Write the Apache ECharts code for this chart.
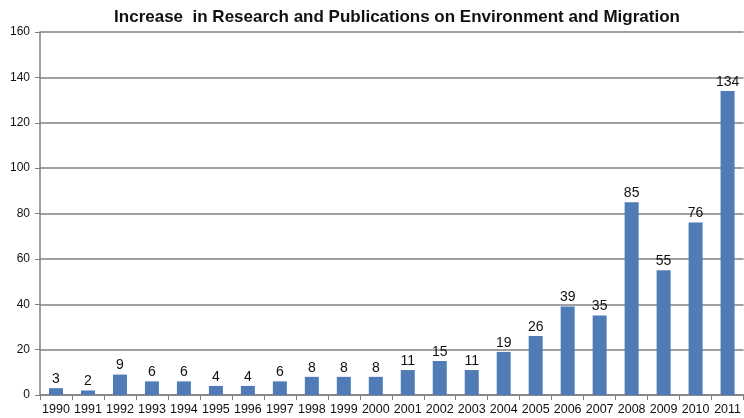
<!DOCTYPE html>
<html lang="en">

<head>
  <meta charset="UTF-8">
  <title>Environment and Migration</title>
  <script src="https://cdn.jsdelivr.net/npm/echarts@6.0.0/dist/echarts.min.js"></script>
  <style>
    * {
      padding: 0;
      margin: 0;
    }

    #main {
      width: 744px;
      height: 418px;
      background: #fff;
    }
  </style>
</head>

<body>
  <div id="main"></div>
  <script>
    var years = ['1990', '1991', '1992', '1993', '1994', '1995', '1996', '1997', '1998', '1999', '2000',
      '2001', '2002', '2003', '2004', '2005', '2006', '2007', '2008', '2009', '2010', '2011'];
    var counts = [3, 2, 9, 6, 6, 4, 4, 6, 8, 8, 8, 11, 15, 11, 19, 26, 39, 35, 85, 55, 76, 134];
    var titleText = 'Increase  in Research and Publications on Environment and Migration';

    var myChart = echarts.init(document.getElementById('main'));
    var option = {
      animation: false,
      title: {
        text: titleText,
        left: 392,
        textAlign: 'center',
        top: 4,
        textStyle: {
          fontFamily: 'Liberation Sans',
          fontSize: 17,
          fontWeight: 'bold',
          color: '#111'
        }
      },
      grid: {
        left: 40,
        right: 0,
        top: 32,
        bottom: 23,
        containLabel: false
      },
      xAxis: {
        type: 'category',
        data: years,
        axisLine: { lineStyle: { color: '#808080', width: 1.5 } },
        axisTick: { show: true, length: 5, lineStyle: { color: '#808080' } },
        axisLabel: {
          fontFamily: 'Liberation Sans',
          fontSize: 12.5,
          color: '#111',
          margin: 8,
          interval: 0
        }
      },
      yAxis: {
        type: 'value',
        min: 0,
        max: 160,
        interval: 20,
        axisLine: { show: true, lineStyle: { color: '#808080', width: 1.5 } },
        axisTick: { show: true, length: 5, lineStyle: { color: '#808080' } },
        splitLine: { lineStyle: { color: '#808080', width: 1.5 } },
        axisLabel: {
          fontFamily: 'Liberation Sans',
          fontSize: 12,
          color: '#111',
          margin: 10
        }
      },
      series: [{
        type: 'bar',
        data: counts,
        barWidth: 14,
        itemStyle: { color: '#4f7bb6' },
        label: {
          show: true,
          position: 'top',
          distance: 2,
          fontFamily: 'Liberation Sans',
          fontSize: 14,
          color: '#111'
        }
      }]
    };

    option && myChart.setOption(option);
  </script>
</body>

</html>
